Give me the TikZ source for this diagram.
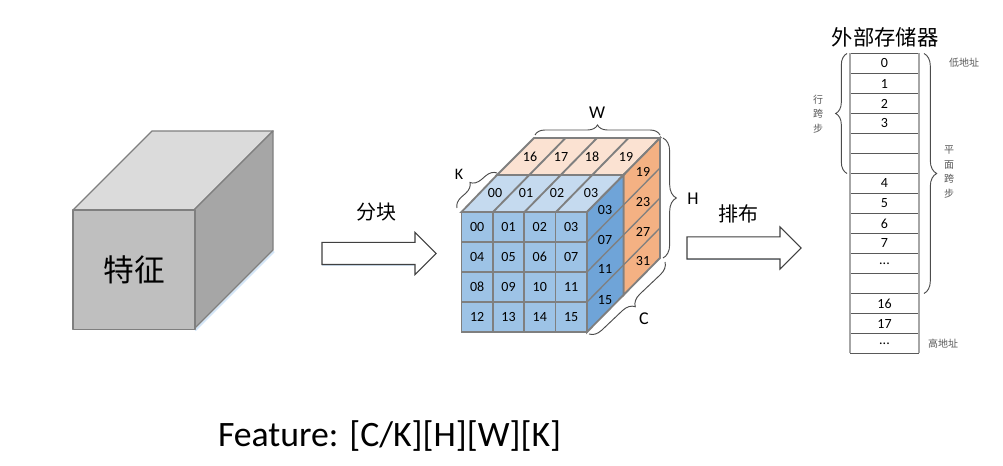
\documentclass[tikz,border=0pt]{standalone}
\usepackage{fontspec}
\setmainfont{Carlito}
\newfontfamily\cjk{Noto Sans CJK SC}
\usetikzlibrary{shapes.arrows, positioning, decorations.pathreplacing, calc}

\definecolor{cubeedge}{HTML}{7F7F7F}
\definecolor{cellfront}{HTML}{9DC3E6}
\definecolor{celltop}{HTML}{C5DAEF}
\definecolor{cellside}{HTML}{6FA4D8}
\definecolor{backtop}{HTML}{FBE2D2}
\definecolor{backside}{HTML}{F4B183}
\definecolor{softedge}{HTML}{D3E5F7}

\begin{document}
\begin{tikzpicture}[
        x=0.75pt, y=-0.75pt,
        node distance=0pt,
        every node/.style={inner sep=0pt, outer sep=0pt},
        face/.style={draw=cubeedge, line width=1pt, line join=round},
        cell/.style={rectangle, draw=cubeedge, line width=1.4pt, fill=cellfront, minimum width=23.5pt, minimum height=22.5pt, font=\fontsize{10.5pt}{12pt}\selectfont},
        slant/.style={draw=cubeedge, line width=1.4pt},
        num/.style={font=\fontsize{10.5pt}{12pt}\selectfont},
        dimtext/.style={font=\fontsize{13.5pt}{16pt}\selectfont},
        memcell/.style={rectangle, minimum width=51.75pt, minimum height=15pt, font=\fontsize{10.5pt}{12pt}\selectfont},
        blockarrow/.style={single arrow, draw=black!75, fill=white, line width=0.8pt, single arrow head extend=7.5pt, single arrow tip angle=90, minimum height=85.5pt, inner xsep=0pt, inner ysep=7.875pt},
        brace/.style={draw=black!70, line width=0.7pt, decorate, decoration={brace, amplitude=#1}},
        brace/.default=8pt,
        shadowline/.style={draw=softedge, line width=1.5pt},
        bigtext/.style={font=\cjk\fontsize{15pt}{18pt}\selectfont},
        smalltext/.style={font=\cjk\fontsize{7.5pt}{11pt}\selectfont, text=black!65, align=center}
    ]
        \useasboundingbox (0,0) rectangle (1003,466);

        % solid block on the left
        \draw[shadowline] (195,330.5) -- (274,251.5);
        \draw[face, fill=black!14] (73,210) -- (152,131) -- (273,131) -- (194,210) -- cycle;
        \draw[face, fill=black!35] (194,210) -- (273,131) -- (273,250) -- (194,329) -- cycle;
        \node[face, rectangle, fill=black!25, minimum width=91.5pt, minimum height=89.5pt, anchor=north west, font=\cjk\fontsize{23pt}{27pt}\selectfont] (feature) at (73,210) {特征};

        % back layer
        \draw[slant, fill=backtop] (497,175) -- (534,138) -- (660,138) -- (623.5,175) -- cycle;
        \draw[slant, fill=backside] (623.5,175) -- (660,138) -- (660,258) -- (623.5,295) -- cycle;
        % front layer
        \draw[slant, fill=celltop] (461.5,212) -- (497,175) -- (623.5,175) -- (587,212) -- cycle;
        \draw[slant, fill=cellside] (587,212) -- (623.5,175) -- (623.5,295) -- (587,332) -- cycle;

        % division lines on the top and the sides
        \draw[slant] (493,212) -- (565.5,138);
        \draw[slant] (524.5,212) -- (597,138);
        \draw[slant] (556,212) -- (628.5,138);
        \draw[slant, line width=1pt] (587,242) -- (660,168);
        \draw[slant, line width=1pt] (587,272) -- (660,198);
        \draw[slant, line width=1pt] (587,302) -- (660,228);

        % front cells
        \node[cell, anchor=north west] (c00) at (461.5,212) {00};
        \node[cell, right=of c00] (c01) {01};
        \node[cell, right=of c01] (c02) {02};
        \node[cell, right=of c02] (c03) {03};
        \node[cell, below=of c00] (c04) {04};
        \node[cell, right=of c04] (c05) {05};
        \node[cell, right=of c05] (c06) {06};
        \node[cell, right=of c06] (c07) {07};
        \node[cell, below=of c04] (c08) {08};
        \node[cell, right=of c08] (c09) {09};
        \node[cell, right=of c09] (c10) {10};
        \node[cell, right=of c10] (c11) {11};
        \node[cell, below=of c08] (c12) {12};
        \node[cell, right=of c12] (c13) {13};
        \node[cell, right=of c13] (c14) {14};
        \node[cell, right=of c14] (c15) {15};

        % numbers on the slanted faces
        \node[num] (t00) at (495,193.5) {00};
        \node[num] (t01) at (526,193.5) {01};
        \node[num] (t02) at (557,193.5) {02};
        \node[num] (t03) at (591,193.5) {03};
        \node[num] (b16) at (530,157) {16};
        \node[num] (b17) at (561,157) {17};
        \node[num] (b18) at (592,157) {18};
        \node[num] (b19) at (626,157) {19};
        \node[num] (s03) at (605,210) {03};
        \node[num] (s07) at (605,240) {07};
        \node[num] (s11) at (605,269) {11};
        \node[num] (s15) at (605,300) {15};
        \node[num] (r19) at (643,172) {19};
        \node[num] (r23) at (643,202) {23};
        \node[num] (r27) at (643,232) {27};
        \node[num] (r31) at (643,261) {31};

        % dimension braces
        \coordinate (wa) at (535,135);
        \coordinate (wb) at (660,135);
        \coordinate (ha) at (663,138);
        \coordinate (hb) at (663,258);
        \coordinate (ca) at (665,262);
        \coordinate (cb) at (589,334);
        \coordinate (ka) at (457,208);
        \coordinate (kb) at (497,173);
        \draw[brace=7.5pt] (wa) -- (wb);
        \draw[brace=10pt] (ha) -- (hb);
        \draw[brace=9pt] (ca) -- (cb);
        \draw[brace=8pt] (ka) -- (kb);
        \node[dimtext] (wlabel) at (597,113) {W};
        \node[dimtext] (hlabel) at (693,199) {H};
        \node[dimtext] (clabel) at (644,319) {C};
        \node[font=\fontsize{12pt}{14pt}\selectfont] (klabel) at (459,174) {K};

        % block arrows
        \draw[shadowline] (322,265) -- (414,265);
        \draw[shadowline] (687,259.5) -- (779,259.5);
        \node[blockarrow] (split) at (373.5,253.5) {};
        \node[blockarrow] (layout) at (738.5,248) {};
        \node[bigtext] (splitlabel) at (376.5,212) {分块};
        \node[bigtext] (layoutlabel) at (738,214) {排布};

        % external memory column
        \node[font=\cjk\fontsize{16pt}{19pt}\selectfont] (memtitle) at (885,37) {外部存储器};
        \node[memcell] (m0) at (884.5,63.5) {0};
        \node[memcell, below=of m0] (m1) {1};
        \node[memcell, below=of m1] (m2) {2};
        \node[memcell, below=of m2] (m3) {3};
        \node[memcell, below=of m3] (m4) {};
        \node[memcell, below=of m4] (m5) {};
        \node[memcell, below=of m5] (m6) {4};
        \node[memcell, below=of m6] (m7) {5};
        \node[memcell, below=of m7] (m8) {6};
        \node[memcell, below=of m8] (m9) {7};
        \node[memcell, below=of m9] (m10) {...};
        \node[memcell, below=of m10] (m11) {};
        \node[memcell, below=of m11] (m12) {16};
        \node[memcell, below=of m12] (m13) {17};
        \node[memcell, below=of m13] (m14) {...};
        \foreach \i in {0,...,14} {
            \draw[black!65, line width=0.7pt] (m\i.north west) -- (m\i.north east);
        }
        \draw[black!65, line width=0.7pt] (m14.south west) -- (m14.south east);
        \draw[black!35, line width=1.2pt] (m0.north west) -- (m14.south west);
        \draw[black!35, line width=1.2pt] (m0.north east) -- (m14.south east);

        % stride braces
        \draw[brace=8.5pt] ($(m5.south west)+(-3,0)$) -- ($(m0.north west)+(-3,0)$);
        \draw[brace=9.5pt] ($(m0.north east)+(5,0)$) -- ($(m11.south east)+(5,0)$);
        \node[smalltext] (rowstride) at (818,114) {行\\跨\\步};
        \node[smalltext] (planestride) at (949,172) {平\\面\\跨\\步};
        \node[smalltext] (lowaddr) at (964,63) {低地址};
        \node[smalltext] (highaddr) at (943,344) {高地址};

        \node[font=\fontsize{26.8pt}{32pt}\selectfont] (caption) at (389.5,436) {Feature: [C/K][H][W][K]};
    \end{tikzpicture}
\end{document}
